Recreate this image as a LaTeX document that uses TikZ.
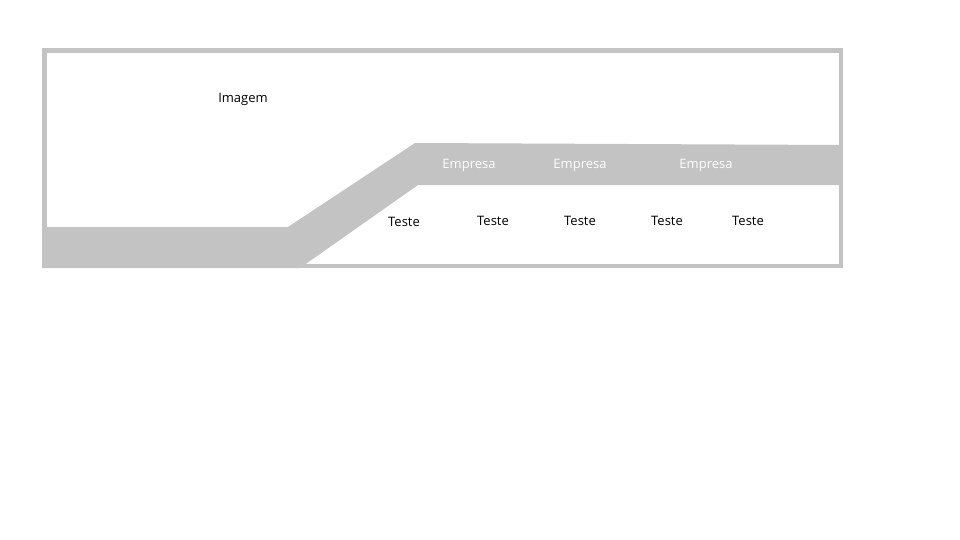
\documentclass[tikz,border=0pt]{standalone}
\usepackage{fontspec}
\setmainfont{Open Sans}
\definecolor{bandgray}{RGB}{195,195,195}
\begin{document}
\begin{tikzpicture}[x=1pt,y=-1pt,
  lbl/.style={font=\fontsize{13}{15}\selectfont, inner sep=0pt, text=black},
  emp/.style={font=\fontsize{13}{15}\selectfont, inner sep=0pt, text=white}]
\useasboundingbox (0,0) rectangle (960,540);
\fill[white] (0,0) rectangle (960,540);
% outer frame
\draw[bandgray, line width=4.5pt] (44.5,50.5) rectangle (841,266);
% band
\fill[bandgray] (42,227) -- (288,227) -- (415,143) -- (841,145) -- (841,185) -- (418,185) -- (300,268) -- (42,268) -- cycle;
\node[lbl] (img) at (243,99) {Imagem};
\node[emp] (e1) at (469,165) {Empresa};
\node[emp] (e2) at (580,165) {Empresa};
\node[emp] (e3) at (706,165) {Empresa};
\node[lbl] (t1) at (404,222) {Teste};
\node[lbl] (t2) at (493,221) {Teste};
\node[lbl] (t3) at (580,221) {Teste};
\node[lbl] (t4) at (667,221) {Teste};
\node[lbl] (t5) at (748,221) {Teste};
\end{tikzpicture}
\end{document}
